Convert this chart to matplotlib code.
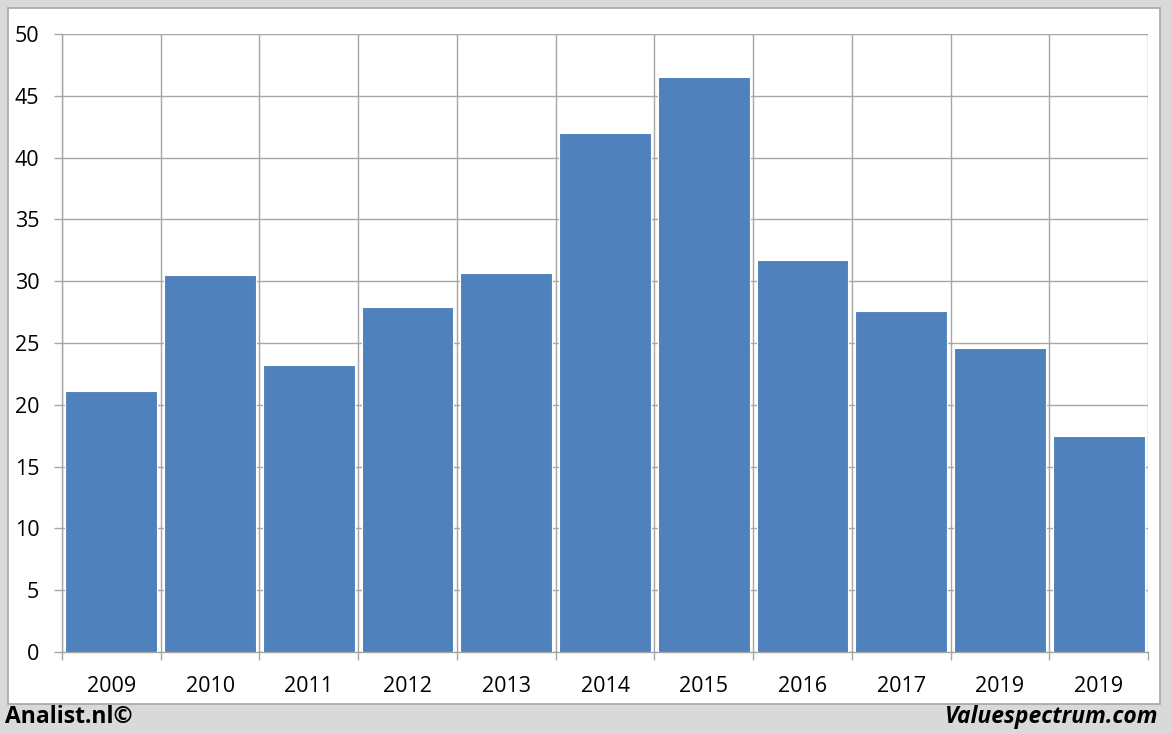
import matplotlib
matplotlib.use("Agg")
import matplotlib.pyplot as plt
from matplotlib.patches import Rectangle
import numpy as np

years = ["2009", "2010", "2011", "2012", "2013", "2014", "2015", "2016", "2017", "2019", "2019"]
values = [21.1, 30.5, 23.2, 27.9, 30.7, 42.0, 46.5, 31.7, 27.6, 24.6, 17.5]
yticks = [0, 5, 10, 15, 20, 25, 30, 35, 40, 45, 50]

W, H = 1172, 734
fig = plt.figure(figsize=(W / 100, H / 100), dpi=100)
fig.patch.set_facecolor("#d9d9d9")
fig.patches.append(Rectangle((8 / W, 1 - 704 / H), (1160 - 8) / W, (704 - 8) / H,
                             transform=fig.transFigure, facecolor="white",
                             edgecolor="#a6a6a6", linewidth=1.2, zorder=-10))

ax = fig.add_axes([62 / W, 1 - 652 / H, (1148 - 62) / W, (652 - 34) / H])
ax.set_zorder(5)
ax.set_facecolor("none")
x = np.arange(len(years))
ax.bar(x, values, width=0.93, color="#4f81bd", edgecolor="white", linewidth=0.8, zorder=3)

ax.set_xlim(-0.5, len(years) - 0.5)
ax.set_ylim(0, 50)
ax.set_yticks(yticks)
ax.set_yticklabels([str(t) for t in yticks])
ax.set_xticks(x)
ax.set_xticklabels(years)
ax.set_xticks(np.arange(-0.5, len(years)), minor=True)

grid_c = "#a6a6a6"
ax.grid(axis="y", which="major", color=grid_c, linewidth=1, zorder=0)
ax.grid(axis="x", which="minor", color=grid_c, linewidth=1, zorder=0)
ax.grid(axis="x", which="major", visible=False)
ax.tick_params(axis="x", which="major", length=0, pad=17)
ax.tick_params(axis="x", which="minor", length=5.8, color=grid_c, width=1)
ax.tick_params(axis="y", length=5.8, color=grid_c, width=1, pad=10.5)
for lab in ax.get_xticklabels() + ax.get_yticklabels():
    lab.set_fontfamily("Open Sans")
    lab.set_fontsize(15.5)
    lab.set_color("black")
for s in ["top", "right"]:
    ax.spines[s].set_visible(False)
for s in ["left", "bottom"]:
    ax.spines[s].set_color(grid_c)
    ax.spines[s].set_linewidth(1)

fig.text(5 / W, 1 - 717 / H, "Analist.nl©", fontsize=16.5, fontweight="bold",
         fontfamily="Open Sans", ha="left", va="center")
fig.text(1158 / W, 1 - 717 / H, "Valuespectrum.com", fontsize=16.5, fontweight="bold",
         fontstyle="italic", fontfamily="Open Sans", ha="right", va="center")

fig.savefig("out.png", dpi=100, facecolor=fig.get_facecolor())
